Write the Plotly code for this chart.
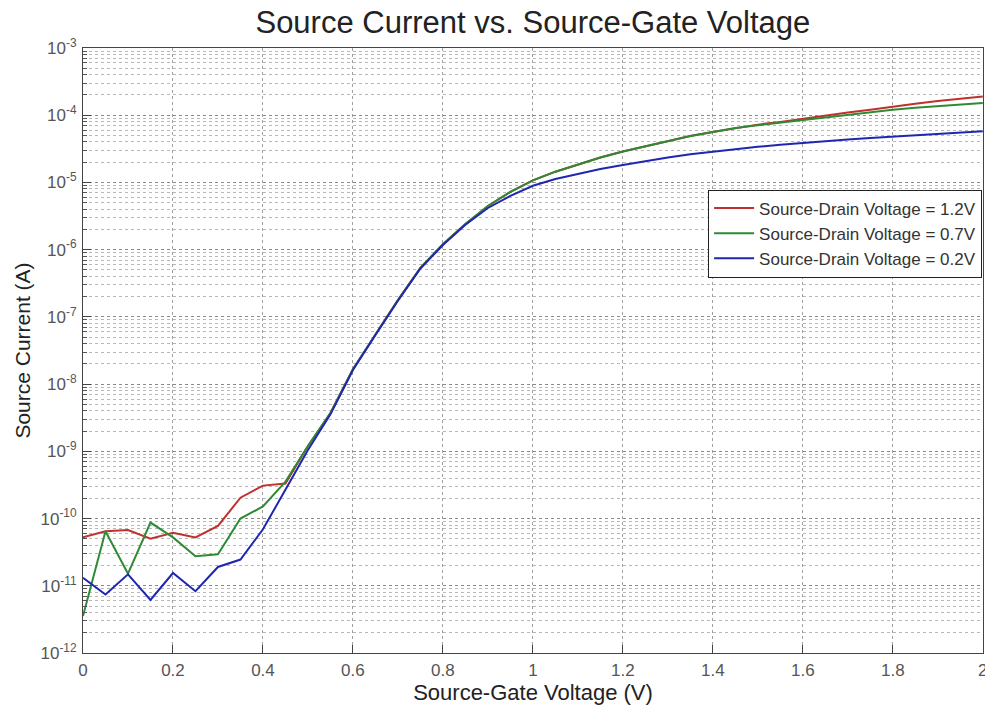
import plotly.graph_objects as go

# Source-gate voltage (V)
vsg = [0.00, 0.05, 0.10, 0.15, 0.20, 0.25, 0.30, 0.35, 0.40, 0.45,
       0.50, 0.55, 0.60, 0.65, 0.70, 0.75, 0.80, 0.85, 0.90, 0.95,
       1.00, 1.05, 1.10, 1.15, 1.20, 1.25, 1.30, 1.35, 1.40, 1.45,
       1.50, 1.55, 1.60, 1.65, 1.70, 1.75, 1.80, 1.85, 1.90, 1.95, 2.00]

# log10 of source current (A)
log_i_12 = [-10.28, -10.19, -10.17, -10.30, -10.21, -10.28, -10.11, -9.69, -9.51, -9.48,
            -8.92, -8.43, -7.78, -7.26, -6.75, -6.27, -5.92, -5.62, -5.35, -5.14,
            -4.97, -4.84, -4.73, -4.63, -4.54, -4.46, -4.38, -4.31, -4.25, -4.19,
            -4.14, -4.10, -4.05, -4.01, -3.96, -3.92, -3.87, -3.83, -3.79, -3.76, -3.72]
log_i_07 = [-11.45, -10.19, -10.82, -10.06, -10.28, -10.56, -10.53, -10.00, -9.82, -9.45,
            -8.92, -8.43, -7.78, -7.26, -6.75, -6.27, -5.92, -5.62, -5.35, -5.14,
            -4.97, -4.84, -4.73, -4.63, -4.54, -4.46, -4.38, -4.31, -4.25, -4.19,
            -4.15, -4.11, -4.07, -4.03, -3.99, -3.95, -3.92, -3.89, -3.87, -3.84, -3.82]
log_i_02 = [-10.88, -11.13, -10.83, -11.21, -10.81, -11.08, -10.72, -10.61, -10.16, -9.58,
            -8.98, -8.45, -7.79, -7.27, -6.76, -6.28, -5.93, -5.63, -5.38, -5.20,
            -5.05, -4.95, -4.87, -4.80, -4.74, -4.68, -4.63, -4.58, -4.54, -4.50,
            -4.47, -4.44, -4.41, -4.38, -4.36, -4.34, -4.32, -4.30, -4.28, -4.26, -4.24]

series_names = ["Source-Drain Voltage = 1.2V",
                "Source-Drain Voltage = 0.7V",
                "Source-Drain Voltage = 0.2V"]
series_colors = ["#c0302c", "#2f8a35", "#1f27b0"]

x_tickvals = [0, 0.2, 0.4, 0.6, 0.8, 1.0, 1.2, 1.4, 1.6, 1.8, 2.0]
x_ticktext = ["0", "0.2", "0.4", "0.6", "0.8", "1", "1.2", "1.4", "1.6", "1.8", "2"]
y_exponents = [-12, -11, -10, -9, -8, -7, -6, -5, -4, -3]

fig = go.Figure()
for name, color, logs in zip(series_names, series_colors, [log_i_12, log_i_07, log_i_02]):
    fig.add_trace(go.Scatter(
        x=vsg, y=[10 ** v for v in logs], mode="lines", name=name,
        line=dict(color=color, width=2),
    ))

font_family = "Liberation Sans, Arial, sans-serif"

fig.update_layout(
    width=985, height=706,
    margin=dict(l=83, r=2, t=48, b=53, autoexpand=False),
    paper_bgcolor="white", plot_bgcolor="white",
    title=dict(text="Source Current vs. Source-Gate Voltage", x=0.541, xanchor="center",
               y=0.968, yanchor="middle",
               font=dict(family=font_family, size=31, color="#222")),
    font=dict(family=font_family, color="#333"),
    showlegend=True,
    legend=dict(x=0.999, xanchor="right", y=0.766, yanchor="top",
                bgcolor="white", bordercolor="#222", borderwidth=1,
                font=dict(size=17, color="#333"), tracegroupgap=0,
                itemwidth=40),
)

fig.update_xaxes(
    range=[0, 2.0005], tickvals=x_tickvals, ticktext=x_ticktext,
    ticklabeloverflow="allow",
    showgrid=True, gridcolor="#a0a0a0", griddash="dot", gridwidth=1,
    showline=True, linecolor="#444", linewidth=1, mirror=True,
    ticks="inside", ticklen=8, tickcolor="#444",
    tickfont=dict(size=17, color="#555"),
    ticklabelstandoff=2,
    title=dict(text="Source-Gate Voltage (V)", font=dict(size=22, color="#222"), standoff=2),
    zeroline=False,
)
fig.update_yaxes(
    type="log", range=[-12, -3],
    tickvals=[10 ** e for e in y_exponents],
    ticktext=[f"10<sup>{e}</sup>" for e in y_exponents],
    showgrid=True, gridcolor="#8a8a8a", griddash="dot", gridwidth=1,
    minor=dict(dtick="D1", showgrid=True, gridcolor="#b8b8b8", griddash="dot",
               ticks="inside", ticklen=4, tickcolor="#555"),
    showline=True, linecolor="#444", linewidth=1, mirror=True,
    ticks="inside", ticklen=8, tickcolor="#444",
    tickfont=dict(size=17, color="#555"),
    ticklabelstandoff=2,
    title=dict(text="Source Current (A)", font=dict(size=21, color="#222"), standoff=4),
    zeroline=False,
)

fig.write_html("out.html")
